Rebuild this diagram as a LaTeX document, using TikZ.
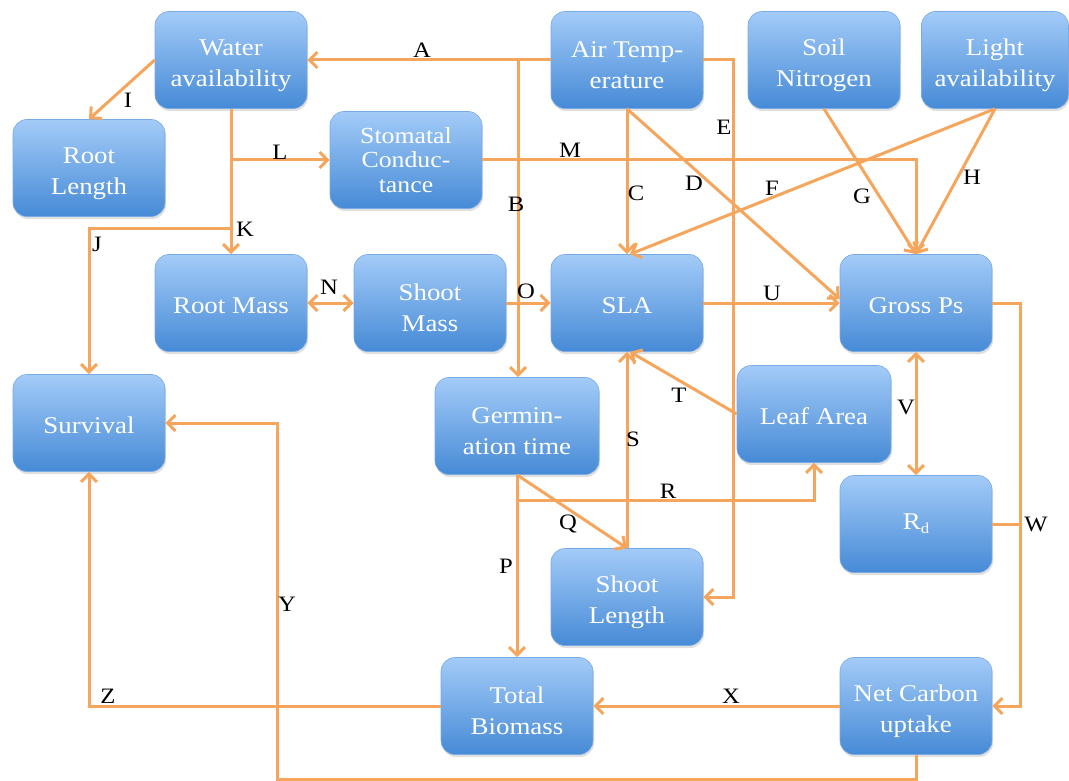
\documentclass[tikz,border=0pt]{standalone}
\usepackage{fontspec}
\setmainfont{Liberation Serif}[FakeStretch=1.12]
\usetikzlibrary{arrows.meta,shadows,calc}
\definecolor{btop}{RGB}{163,203,248}
\definecolor{bbot}{RGB}{70,138,214}
\definecolor{bedge}{RGB}{120,170,230}
\definecolor{conn}{RGB}{246,166,92}
\newcommand\boxfont{\fontsize{24}{31}\selectfont}
\newcommand\stomfont{\fontsize{23}{24.5}\selectfont}
\newcommand\labfont{\fontsize{22}{22}\selectfont}
\newcommand\myup{\rule{0pt}{27pt}}
\tikzset{
  box/.style={rounded corners=14pt, minimum width=152pt, minimum height=97pt,
    top color=btop, bottom color=bbot, draw=bedge, line width=0.6pt,
    text=white, align=center, font=\boxfont, inner sep=0pt,
    drop shadow={opacity=0.25, shadow xshift=1pt, shadow yshift=-2.5pt}},
  one/.style={execute at begin node={\rule{0pt}{22pt}}},
  link/.style={draw=conn, line width=3pt, -{Straight Barb[length=8pt,width=16pt]}},
  link2/.style={draw=conn, line width=3pt, {Straight Barb[length=8pt,width=16pt]}-{Straight Barb[length=8pt,width=16pt]}},
  plain/.style={draw=conn, line width=3pt},
  lab/.style={font=\labfont, text=black, inner sep=0pt}
}
\begin{document}
\begin{tikzpicture}[x=1pt,y=-1pt]
\useasboundingbox (0,0) rectangle (1069,781);
% nodes
\node[box] (water) at (231,60) {\myup Water\\availability};
\node[box] (rootlen) at (89,168) {\myup Root\\Length};
\node[box, font=\stomfont] (stom) at (406,160) {Stomatal\\Conduc-\\tance};
\node[box] (air) at (627,60) {\myup Air Temp-\\erature};
\node[box] (soil) at (824,60) {\myup Soil\\Nitrogen};
\node[box, minimum width=147pt] (light) at (995,60) {\myup Light\\availability};
\node[box, one] (rootmass) at (231,303) {Root Mass};
\node[box] (shootmass) at (430,303) {\myup Shoot\\Mass};
\node[box, one] (sla) at (627,303) {SLA};
\node[box, one] (gross) at (916,303) {Gross Ps};
\node[box, one] (survival) at (89,423) {Survival};
\node[box, minimum width=164pt] (germ) at (517,426) {\myup Germin-\\ation time};
\node[box, one, minimum width=154pt] (leaf) at (814,414) {Leaf Area};
\node[box] (rd) at (916,524) {R\raisebox{-0.35ex}{\fontsize{15}{15}\selectfont d}};
\node[box] (shootlen) at (627,597) {\myup Shoot\\Length};
\node[box] (total) at (517,706) {\myup Total\\Biomass};
\node[box] (net) at (916,706) {\myup Net Carbon\\uptake};
% helper coordinates
\coordinate (bj) at (518,60);
\coordinate (kj) at (231,228);
\coordinate (wx) at (1020,303);
\coordinate (yc) at (277,779);
% connectors
\draw[link] (air.west) -- (water.east);
\draw[link] (bj) -- (bj |- germ.north);
\draw[link] (air.south) -- (sla.north);
\draw[link] (air.south) -- ($(gross.west)+(0,-4)$);
\draw[link] (air.east) -- ++(30,0) |- (shootlen.east);
\draw[link] (light.south) -- ($(sla.north)+(3,0)$);
\draw[link] (soil.south) -- (gross.north);
\draw[link] (light.south) -- (gross.north);
\draw[link] (stom.east) -| (gross.north);
\draw[link] (water.west) -- (rootlen.north);
\draw[link] (water.south |- stom.west) -- (stom.west);
\draw[link] (water.south) -- (rootmass.north);
\draw[link] (kj) -| (survival.north);
\draw[link2] (rootmass.east) -- (shootmass.west);
\draw[link] (shootmass.east) -- (sla.west);
\draw[link] (sla.east) -- (gross.west);
\draw[link] (leaf.west) -- ($(sla.south)+(3,0)$);
\draw[link] (shootlen.north) -- (sla.south);
\draw[link] (germ.south) -- ++(0,26) -| (leaf.south);
\draw[link] (germ.south) -- (total.north);
\draw[link] (germ.south) -- (shootlen.north);
\draw[link2] (gross.south) -- (rd.north);
\draw[link] (gross.east) -- (wx) |- (net.east);
\draw[plain] (rd.east) -- (rd.east -| wx);
\draw[link] (net.west) -- (total.east);
\draw[link] (total.west) -| (survival.south);
\draw[link] (net.south) |- (yc) -- (yc |- survival.east) -- (survival.east);
% labels
\node[lab] (lA) at (422,50) {A};
\node[lab] (lB) at (516,204) {B};
\node[lab] (lC) at (636,193) {C};
\node[lab] (lD) at (694,183) {D};
\node[lab] (lE) at (724,127) {E};
\node[lab] (lF) at (772,188) {F};
\node[lab] (lG) at (862,196) {G};
\node[lab] (lH) at (972,177) {H};
\node[lab] (lI) at (128,100) {I};
\node[lab] (lJ) at (97,244) {J};
\node[lab] (lK) at (245,229) {K};
\node[lab] (lL) at (280,152) {L};
\node[lab] (lM) at (570,150) {M};
\node[lab] (lN) at (329,287) {N};
\node[lab] (lO) at (526,291) {O};
\node[lab] (lP) at (506,566) {P};
\node[lab] (lQ) at (568,524) {Q};
\node[lab] (lR) at (668,491) {R};
\node[lab] (lS) at (633,439) {S};
\node[lab] (lT) at (679,395) {T};
\node[lab] (lU) at (772,293) {U};
\node[lab] (lV) at (906,407) {V};
\node[lab] (lW) at (1036,524) {W};
\node[lab] (lX) at (731,696) {X};
\node[lab] (lY) at (287,604) {Y};
\node[lab] (lZ) at (108,696) {Z};
\end{tikzpicture}
\end{document}
